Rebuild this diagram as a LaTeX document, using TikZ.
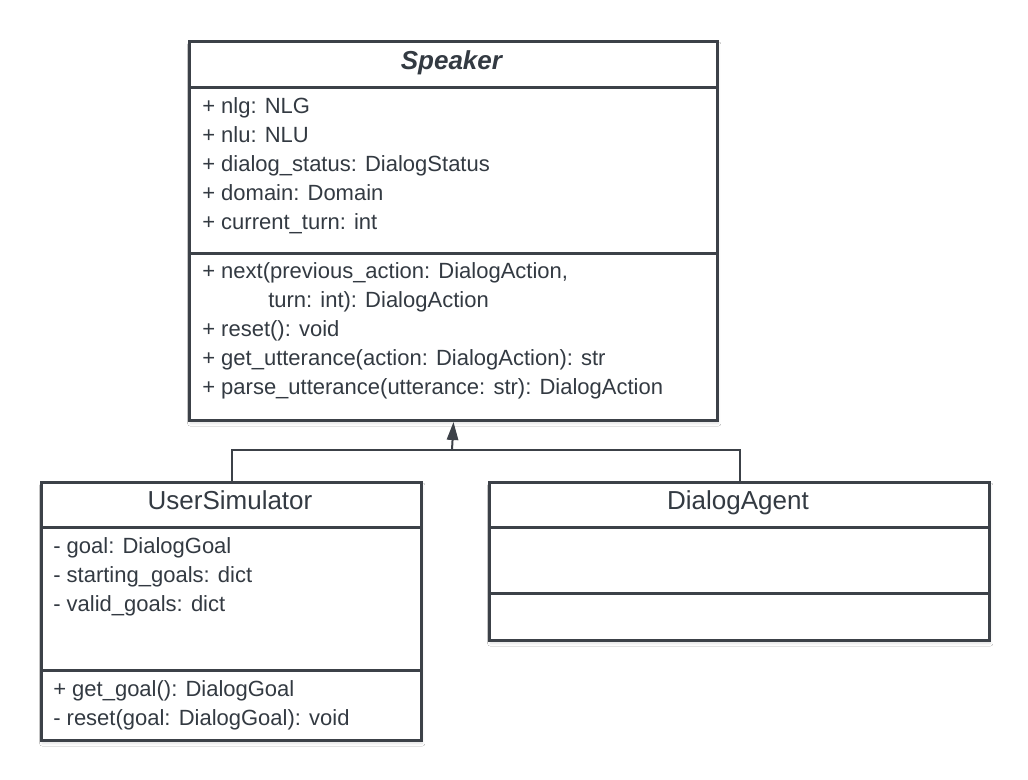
\documentclass[tikz,border=0pt]{standalone}
\usepackage{fontspec}
\setmainfont{Liberation Sans}
\usetikzlibrary{arrows.meta,shadows.blur}
\definecolor{umlline}{HTML}{3C4148}
\definecolor{umltext}{HTML}{333A42}
\begin{document}
\begin{tikzpicture}[x=0.75pt,y=-0.75pt,
  umlbox/.style={draw=umlline, line width=2.25pt, fill=white, inner sep=0pt, anchor=north west,
    blur shadow={shadow xshift=0.6pt, shadow yshift=-2.2pt, shadow blur radius=2pt, shadow blur steps=6, shadow opacity=12}},
  divider/.style={draw=umlline, line width=2.25pt},
  member/.style={anchor=base west, inner sep=0pt, text=umltext, font=\fontsize{16.5}{20}\selectfont},
  title/.style={anchor=base, inner sep=0pt, text=umltext, font=\fontsize{19.5}{23}\selectfont},
  conn/.style={draw=umlline, line width=1.5pt},
]
\useasboundingbox[fill=white] (0,0) rectangle (1028,780);

% Speaker
\node[umlbox, minimum width=396pt, minimum height=284.25pt] (sp) at (188,40) {};
\draw[divider] (sp.west |- 0,88) -- (sp.east |- 0,88);
\draw[divider] (sp.west |- 0,254) -- (sp.east |- 0,254);
\node[title] (sp-t) at (452,70) {\textbf{\textit{Speaker}}};
\node[member] (sp-a1) at (202,114) {+ nlg: NLG};
\node[member] (sp-a2) at (202,143) {+ nlu: NLU};
\node[member] (sp-a3) at (202,172) {+ dialog\_status: DialogStatus};
\node[member] (sp-a4) at (202,201) {+ domain: Domain};
\node[member] (sp-a5) at (202,230) {+ current\_turn: int};
\node[member] (sp-m1) at (202,279) {+ next(previous\_action: DialogAction,};
\node[member] (sp-m1b) at (268,308) {turn: int): DialogAction};
\node[member] (sp-m2) at (202,337) {+ reset(): void};
\node[member] (sp-m3) at (202,366) {+ get\_utterance(action: DialogAction): str};
\node[member] (sp-m4) at (202,395) {+ parse\_utterance(utterance: str): DialogAction};

% UserSimulator
\node[umlbox, minimum width=285pt, minimum height=193.5pt] (us) at (40,481) {};
\draw[divider] (us.west |- 0,527) -- (us.east |- 0,527);
\draw[divider] (us.west |- 0,670) -- (us.east |- 0,670);
\node[title] (us-t) at (230,509) {UserSimulator};
\node[member] (us-a1) at (53,553) {- goal: DialogGoal};
\node[member] (us-a2) at (53,582) {- starting\_goals: dict};
\node[member] (us-a3) at (53,611) {- valid\_goals: dict};
\node[member] (us-m1) at (53,696) {+ get\_goal(): DialogGoal};
\node[member] (us-m2) at (53,725) {- reset(goal: DialogGoal): void};

% DialogAgent
\node[umlbox, minimum width=375pt, minimum height=118.5pt] (da) at (488,481) {};
\draw[divider] (da.west |- 0,527) -- (da.east |- 0,527);
\draw[divider] (da.west |- 0,593) -- (da.east |- 0,593);
\node[title] (da-t) at (738,509) {DialogAgent};

% Generalization
\coordinate (j) at (452,450);
\draw[conn] (us.north) |- (j) -| (da.north);
\draw[conn, -{Triangle[length=13.5pt,width=8.5pt]}] (j) -- (sp.south);
\end{tikzpicture}
\end{document}
